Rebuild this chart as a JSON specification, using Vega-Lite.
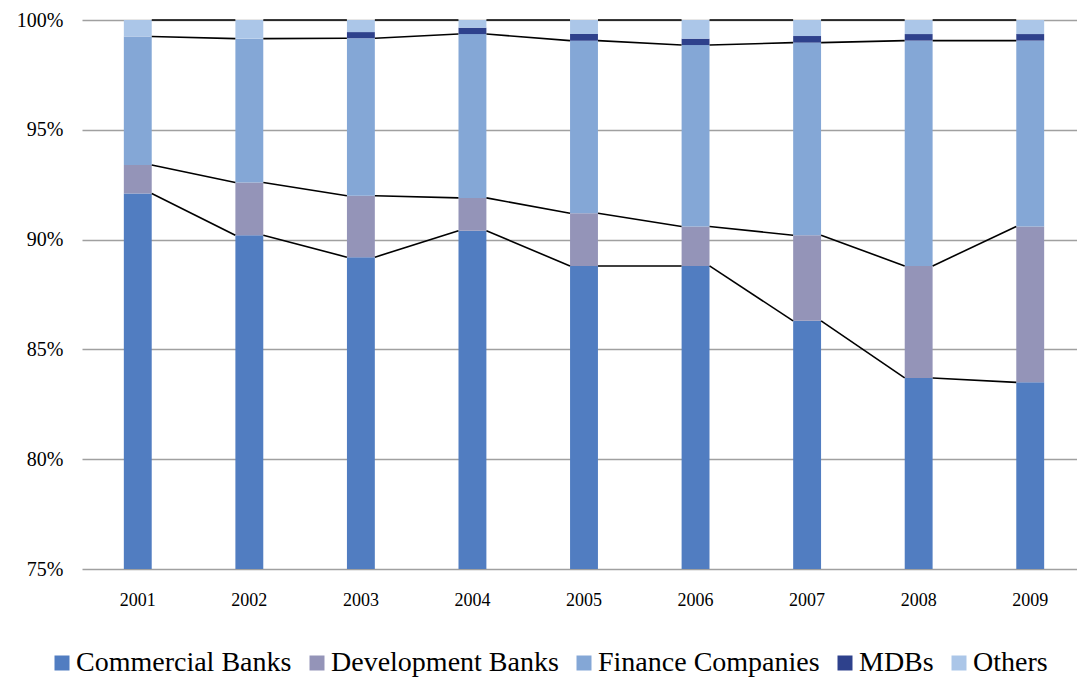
{
  "$schema": "https://vega.github.io/schema/vega-lite/v6.json",
  "width": 995,
  "height": 549,
  "autosize": {"type": "none"},
  "padding": {"left": 82, "top": 20, "right": 0, "bottom": 108},
  "background": "white",
  "config": {
    "view": {"stroke": null},
    "font": "Liberation Serif",
    "axis": {"labelFont": "Liberation Serif", "labelColor": "#000000"},
    "legend": {"labelFont": "Liberation Serif", "labelColor": "#000000"}
  },
  "data": {
    "values": [
      {"year": "2001", "category": "Commercial Banks", "value": 92.1},
      {"year": "2001", "category": "Development Banks", "value": 1.3},
      {"year": "2001", "category": "Finance Companies", "value": 5.85},
      {"year": "2001", "category": "MDBs", "value": 0},
      {"year": "2001", "category": "Others", "value": 0.75},
      {"year": "2002", "category": "Commercial Banks", "value": 90.2},
      {"year": "2002", "category": "Development Banks", "value": 2.4},
      {"year": "2002", "category": "Finance Companies", "value": 6.55},
      {"year": "2002", "category": "MDBs", "value": 0},
      {"year": "2002", "category": "Others", "value": 0.85},
      {"year": "2003", "category": "Commercial Banks", "value": 89.2},
      {"year": "2003", "category": "Development Banks", "value": 2.8},
      {"year": "2003", "category": "Finance Companies", "value": 7.17},
      {"year": "2003", "category": "MDBs", "value": 0.28},
      {"year": "2003", "category": "Others", "value": 0.55},
      {"year": "2004", "category": "Commercial Banks", "value": 90.4},
      {"year": "2004", "category": "Development Banks", "value": 1.5},
      {"year": "2004", "category": "Finance Companies", "value": 7.46},
      {"year": "2004", "category": "MDBs", "value": 0.29},
      {"year": "2004", "category": "Others", "value": 0.35},
      {"year": "2005", "category": "Commercial Banks", "value": 88.8},
      {"year": "2005", "category": "Development Banks", "value": 2.4},
      {"year": "2005", "category": "Finance Companies", "value": 7.86},
      {"year": "2005", "category": "MDBs", "value": 0.3},
      {"year": "2005", "category": "Others", "value": 0.64},
      {"year": "2006", "category": "Commercial Banks", "value": 88.8},
      {"year": "2006", "category": "Development Banks", "value": 1.8},
      {"year": "2006", "category": "Finance Companies", "value": 8.26},
      {"year": "2006", "category": "MDBs", "value": 0.29},
      {"year": "2006", "category": "Others", "value": 0.85},
      {"year": "2007", "category": "Commercial Banks", "value": 86.3},
      {"year": "2007", "category": "Development Banks", "value": 3.9},
      {"year": "2007", "category": "Finance Companies", "value": 8.77},
      {"year": "2007", "category": "MDBs", "value": 0.3},
      {"year": "2007", "category": "Others", "value": 0.73},
      {"year": "2008", "category": "Commercial Banks", "value": 83.7},
      {"year": "2008", "category": "Development Banks", "value": 5.1},
      {"year": "2008", "category": "Finance Companies", "value": 10.26},
      {"year": "2008", "category": "MDBs", "value": 0.3},
      {"year": "2008", "category": "Others", "value": 0.64},
      {"year": "2009", "category": "Commercial Banks", "value": 83.5},
      {"year": "2009", "category": "Development Banks", "value": 7.1},
      {"year": "2009", "category": "Finance Companies", "value": 8.46},
      {"year": "2009", "category": "MDBs", "value": 0.3},
      {"year": "2009", "category": "Others", "value": 0.64}
    ]
  },
  "transform": [
    {"stack": "value", "groupby": ["year"], "sort": [{"field": "category", "order": "ascending"}], "as": ["v0", "v1"]}
  ],
  "layer": [
    {
      "mark": {"type": "bar", "clip": true},
      "encoding": {
        "x": {
          "field": "year", "type": "ordinal",
          "scale": {"range": [0, 1004], "paddingInner": 0.75, "paddingOuter": 0.375},
          "axis": {"title": null, "labelAngle": 0, "labelFontSize": 18, "ticks": false, "tickSize": 0, "labelPadding": 22, "domain": false, "grid": false}
        },
        "y": {
          "field": "v1", "type": "quantitative",
          "scale": {"domain": [75, 100], "nice": false, "zero": false, "clamp": true},
          "axis": {"title": null, "values": [75, 80, 85, 90, 95, 100], "labelExpr": "datum.value + '%'", "labelFontSize": 20, "ticks": false, "tickSize": 0, "labelPadding": 19, "domain": false, "grid": true, "gridColor": "#A0A0A0", "gridWidth": 1.3}
        },
        "y2": {"field": "v0"},
        "color": {
          "field": "category", "type": "nominal",
          "scale": {
            "domain": ["Commercial Banks", "Development Banks", "Finance Companies", "MDBs", "Others"],
            "range": ["#517DC1", "#9494B8", "#84A7D6", "#2E418C", "#ABC6E8"]
          },
          "legend": {
            "title": null, "orient": "none", "direction": "horizontal", "columns": 5,
            "legendX": -34, "legendY": 629, "padding": 0,
            "symbolType": "square", "symbolSize": 225, "symbolStrokeWidth": 0,
            "labelFontSize": 28, "labelLimit": 500, "labelOffset": 0, "columnPadding": 11
          }
        }
      }
    },
    {
      "transform": [
        {"filter": "datum.category !== 'MDBs'"},
        {"window": [{"op": "lead", "field": "year", "as": "nextYear"}, {"op": "lead", "field": "v1", "as": "nextV1"}], "groupby": ["category"], "sort": [{"field": "year", "order": "ascending"}]},
        {"filter": "datum.nextYear != null"}
      ],
      "mark": {"type": "rule", "color": "#000000", "strokeWidth": 1.6, "xOffset": 14, "x2Offset": -14},
      "encoding": {
        "x": {"field": "year", "type": "ordinal"},
        "x2": {"field": "nextYear"},
        "y": {"field": "v1", "type": "quantitative"},
        "y2": {"field": "nextV1"}
      }
    }
  ]
}
